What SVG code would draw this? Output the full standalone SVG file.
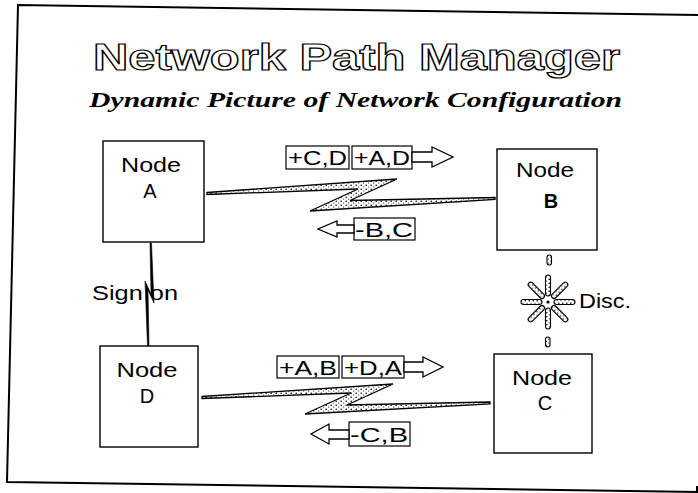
<svg xmlns="http://www.w3.org/2000/svg" width="698" height="493" viewBox="0 0 698 493">
  <style>
    .frame { fill: none; stroke: #000; stroke-width: 2; }
    .box { fill: #fff; stroke: #000; stroke-width: 1.4; }
    .lbl { fill: #fff; stroke: #000; stroke-width: 1.2; }
    .txt { font-family: "Liberation Sans", Arial, sans-serif; font-size: 20px; fill: #000; }
    .tag { font-family: "Liberation Sans", Arial, sans-serif; font-size: 21px; fill: #000; }
    .title { font-family: "Liberation Sans", Arial, sans-serif; font-size: 37px; font-weight: bold; fill: #fff; stroke: #000; stroke-width: 1.2; }
    .sub { font-family: "Liberation Serif", "Times New Roman", serif; font-size: 22px; font-style: italic; font-weight: bold; fill: #000; }
    .arrow { fill: #fff; stroke: #000; stroke-width: 1.3; stroke-linejoin: miter; }
    .bolt { fill: url(#speckle); stroke: #000; stroke-width: 1.3; stroke-linejoin: miter; }
    .ray { fill: url(#speckle); stroke: #000; stroke-width: 1.1; }
  </style>
  <defs>
    <pattern id="speckle" width="5" height="4" patternUnits="userSpaceOnUse">
      <rect width="5" height="4" fill="#fff"/>
      <circle cx="1.2" cy="1.2" r="0.8" fill="#000"/>
      <circle cx="3.7" cy="3" r="0.6" fill="#000"/>
    </pattern>
  </defs>

  <!-- outer frame -->
  <path class="frame" d="M698,15 L18,5 L7,482 L698,492"/>
  <line class="frame" x1="697" y1="486" x2="697" y2="493"/>

  <!-- heading -->
  <text class="title" x="93" y="70" textLength="527" lengthAdjust="spacingAndGlyphs">Network Path Manager</text>
  <text class="sub" x="89" y="107" textLength="533" lengthAdjust="spacingAndGlyphs">Dynamic Picture of Network Configuration</text>

  <!-- links between nodes -->
  <g id="connectors">
    <!-- A to B -->
    <polygon class="bolt" points="207,192.5 397,179 350,200.5 495,197.5 495,199.5 310,211 358,189 207,194.5"/>
    <!-- D to C -->
    <polygon class="bolt" points="202,396.5 393,384 347,405 490,402 490,404 305,414 351,393 202,398.5"/>
    <!-- A to D, sign on -->
    <polygon fill="#000" stroke="#000" stroke-width="0.6" points="150,243 151.5,243 154,303 148,290 149,346 147.5,346 145,281 151,294"/>
    <!-- B to C, disconnected -->
    <rect class="ray" x="547" y="255" width="4.5" height="10" rx="2.2"/>
    <rect class="ray" x="545.5" y="337" width="4.5" height="10" rx="2.2"/>
    <g transform="translate(548,302)">
      <rect class="ray" x="-2.5" y="-27" width="5" height="21" rx="2.5"/>
      <rect class="ray" x="-2.5" y="-27" width="5" height="21" rx="2.5" transform="rotate(45)"/>
      <rect class="ray" x="-2.5" y="-27" width="5" height="21" rx="2.5" transform="rotate(90)"/>
      <rect class="ray" x="-2.5" y="-27" width="5" height="21" rx="2.5" transform="rotate(135)"/>
      <rect class="ray" x="-2.5" y="-27" width="5" height="21" rx="2.5" transform="rotate(180)"/>
      <rect class="ray" x="-2.5" y="-27" width="5" height="21" rx="2.5" transform="rotate(225)"/>
      <rect class="ray" x="-2.5" y="-27" width="5" height="21" rx="2.5" transform="rotate(270)"/>
      <rect class="ray" x="-2.5" y="-27" width="5" height="21" rx="2.5" transform="rotate(315)"/>
      <circle r="1.6" fill="#000"/>
    </g>
    <text class="txt" x="92" y="300" textLength="86" lengthAdjust="spacingAndGlyphs">Sign on</text>
    <text class="txt" x="579" y="308" textLength="52" lengthAdjust="spacingAndGlyphs">Disc.</text>

    <!-- route updates on A-B -->
    <rect class="lbl" x="286" y="146" width="63" height="23"/>
    <text class="tag" x="288" y="165" textLength="59" lengthAdjust="spacingAndGlyphs">+C,D</text>
    <rect class="lbl" x="352" y="146" width="60" height="23"/>
    <text class="tag" x="354" y="165" textLength="56" lengthAdjust="spacingAndGlyphs">+A,D</text>
    <polygon class="arrow" points="412,152 432,152 432,147 453,157 432,167 432,162 412,162"/>
    <rect class="lbl" x="354" y="218" width="61" height="22"/>
    <text class="tag" x="355" y="237" textLength="58" lengthAdjust="spacingAndGlyphs">-B,C</text>
    <polygon class="arrow" points="354,225 337,225 337,221 318,229 337,237 337,233 354,233"/>

    <!-- route updates on D-C -->
    <rect class="lbl" x="277" y="356" width="62" height="22"/>
    <text class="tag" x="279" y="375" textLength="58" lengthAdjust="spacingAndGlyphs">+A,B</text>
    <rect class="lbl" x="342" y="356" width="62" height="22"/>
    <text class="tag" x="344" y="375" textLength="58" lengthAdjust="spacingAndGlyphs">+D,A</text>
    <polygon class="arrow" points="404,362 423,362 423,357 443,367 423,377 423,372 404,372"/>
    <rect class="lbl" x="349" y="422" width="61" height="24"/>
    <text class="tag" x="350" y="442" textLength="58" lengthAdjust="spacingAndGlyphs">-C,B</text>
    <polygon class="arrow" points="349,430 329,430 329,424 311,434 329,444 329,439 349,439"/>
  </g>

  <!-- nodes -->
  <g id="node-a">
    <rect class="box" x="103" y="141" width="101" height="101"/>
    <text class="txt" x="151" y="172" text-anchor="middle" textLength="60" lengthAdjust="spacingAndGlyphs">Node</text>
    <text class="txt" x="150" y="198" text-anchor="middle">A</text>
  </g>
  <g id="node-b">
    <rect class="box" x="497" y="149" width="100" height="101"/>
    <text class="txt" x="545" y="177" text-anchor="middle" textLength="58" lengthAdjust="spacingAndGlyphs">Node</text>
    <text class="txt" x="551" y="208" text-anchor="middle" font-weight="bold">B</text>
  </g>
  <g id="node-c">
    <rect class="box" x="494" y="354" width="98" height="99"/>
    <text class="txt" x="542" y="385" text-anchor="middle" textLength="60" lengthAdjust="spacingAndGlyphs">Node</text>
    <text class="txt" x="545" y="410" text-anchor="middle">C</text>
  </g>
  <g id="node-d">
    <rect class="box" x="100" y="346" width="98" height="101"/>
    <text class="txt" x="147" y="377" text-anchor="middle" textLength="61" lengthAdjust="spacingAndGlyphs">Node</text>
    <text class="txt" x="147" y="403" text-anchor="middle">D</text>
  </g>
</svg>
